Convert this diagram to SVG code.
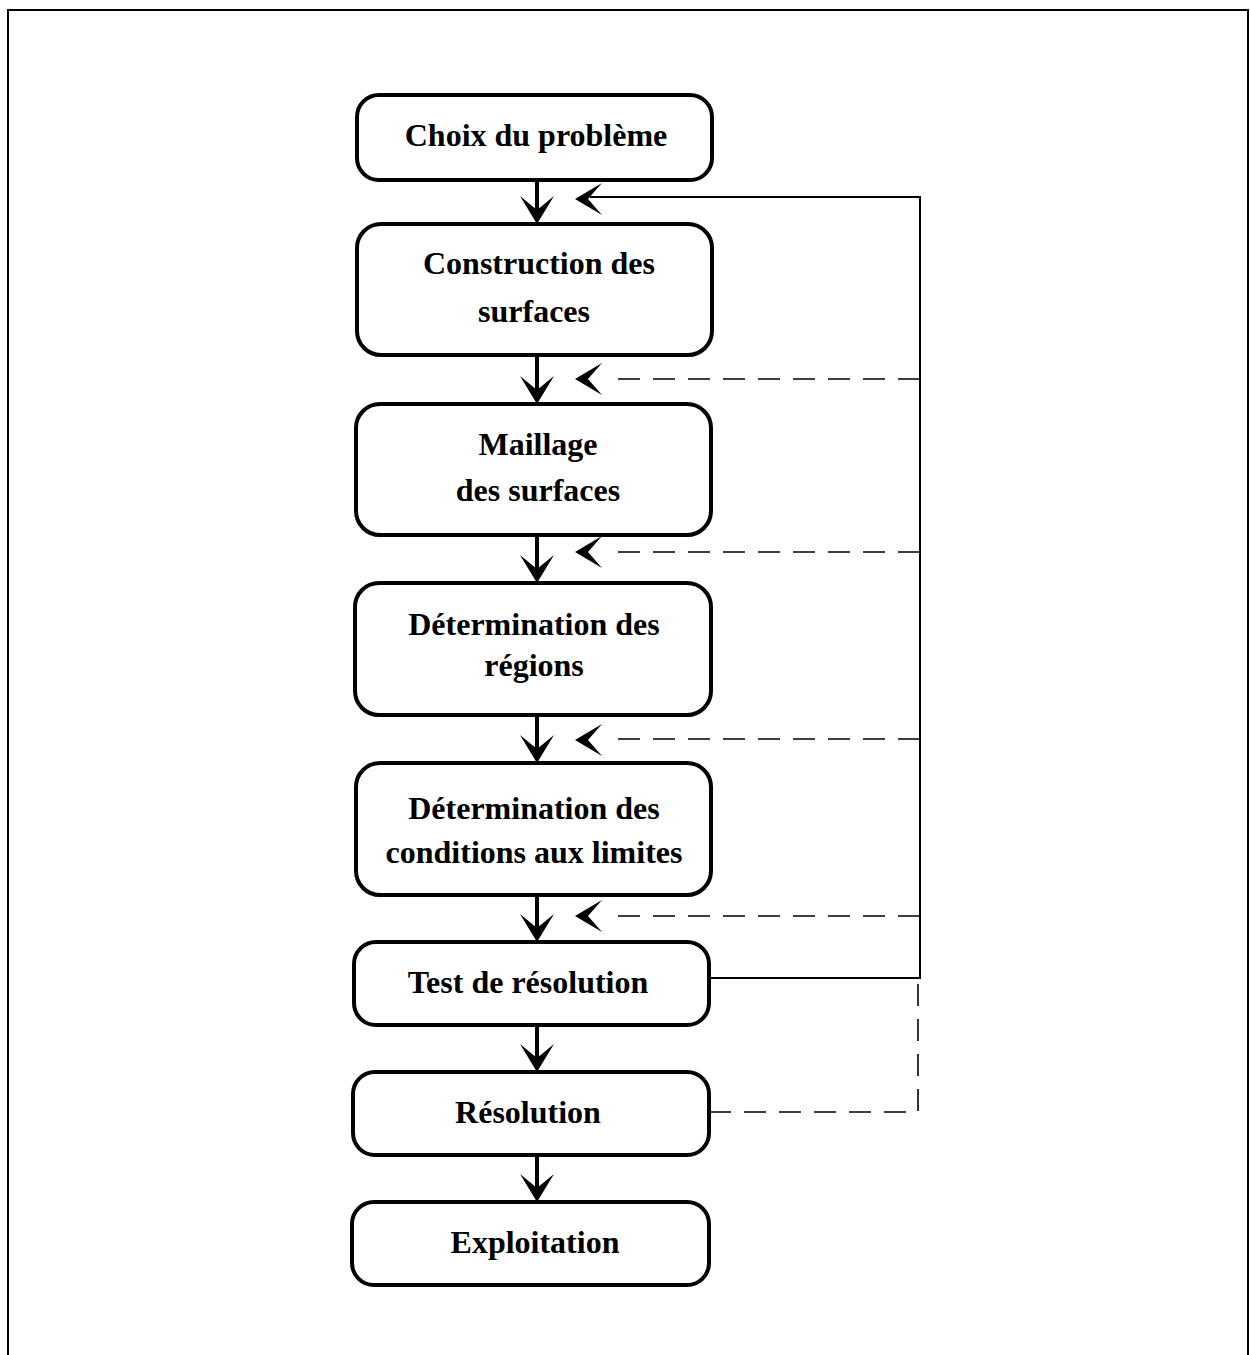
<svg xmlns="http://www.w3.org/2000/svg" width="1250" height="1355" viewBox="0 0 1250 1355">
<style>
.box{fill:#fff;stroke:#000;stroke-width:4}
.t{font-family:"Liberation Serif","Times New Roman",serif;font-weight:bold;font-size:32px;fill:#000;text-anchor:middle}
.shaft{stroke:#000;stroke-width:4;fill:none}
.solid{stroke:#000;stroke-width:2;fill:none}
.dash{stroke:#000;stroke-width:1.6;fill:none;stroke-dasharray:22,13}
.frame{stroke:#000;stroke-width:2;fill:none}
</style>
<defs>
<path id="down" d="M0,0 L-17,-28 L0,-14 L17,-28 Z" fill="#000"/>
<path id="left" d="M0,0 L27,-16 L13,0 L27,16 Z" fill="#000"/>
</defs>
<rect width="1250" height="1355" fill="#fff"/>
<path class="frame" d="M8,1355 L8,10 L1248,10 L1248,1355"/>

<g id="connectors">
  <line class="shaft" x1="537" y1="180" x2="537" y2="215"/><use href="#down" x="537" y="224"/>
  <line class="shaft" x1="537" y1="355" x2="537" y2="395"/><use href="#down" x="537" y="404"/>
  <line class="shaft" x1="537" y1="535" x2="537" y2="574"/><use href="#down" x="537" y="583"/>
  <line class="shaft" x1="537" y1="715" x2="537" y2="754"/><use href="#down" x="537" y="763"/>
  <line class="shaft" x1="537" y1="895" x2="537" y2="933"/><use href="#down" x="537" y="942"/>
  <line class="shaft" x1="537" y1="1025" x2="537" y2="1063"/><use href="#down" x="537" y="1072"/>
  <line class="shaft" x1="537" y1="1155" x2="537" y2="1193"/><use href="#down" x="537" y="1202"/>

  <path class="solid" d="M709,978 L920,978 L920,197 L590,197"/>
  <use href="#left" x="575" y="199"/>

  <line class="dash" x1="920" y1="379" x2="606" y2="379"/><use href="#left" x="575" y="379"/>
  <line class="dash" x1="920" y1="552" x2="606" y2="552"/><use href="#left" x="575" y="552"/>
  <line class="dash" x1="920" y1="739" x2="606" y2="739"/><use href="#left" x="575" y="740"/>
  <line class="dash" x1="920" y1="916" x2="606" y2="916"/><use href="#left" x="575" y="916"/>

  <path class="dash" d="M709,1112 L918,1112 L918,980"/>
</g>

<g id="n1"><rect class="box" x="357" y="95" width="355" height="85" rx="22"/>
<text class="t" x="536" y="146">Choix du problème</text></g>

<g id="n2"><rect class="box" x="357" y="224" width="355" height="131" rx="24"/>
<text class="t" x="539" y="274">Construction des</text>
<text class="t" x="534" y="322">surfaces</text></g>

<g id="n3"><rect class="box" x="356" y="404" width="355" height="131" rx="24"/>
<text class="t" x="538" y="455">Maillage</text>
<text class="t" x="538" y="501">des surfaces</text></g>

<g id="n4"><rect class="box" x="355" y="583" width="356" height="132" rx="24"/>
<text class="t" x="534" y="635">Détermination des</text>
<text class="t" x="534" y="676">régions</text></g>

<g id="n5"><rect class="box" x="356" y="763" width="355" height="132" rx="24"/>
<text class="t" x="534" y="819">Détermination des</text>
<text class="t" x="534" y="863">conditions aux limites</text></g>

<g id="n6"><rect class="box" x="354" y="942" width="355" height="83" rx="22"/>
<text class="t" x="528" y="993">Test de résolution</text></g>

<g id="n7"><rect class="box" x="353" y="1072" width="356" height="83" rx="22"/>
<text class="t" x="528" y="1123">Résolution</text></g>

<g id="n8"><rect class="box" x="352" y="1202" width="357" height="83" rx="22"/>
<text class="t" x="535" y="1253">Exploitation</text></g>
</svg>
